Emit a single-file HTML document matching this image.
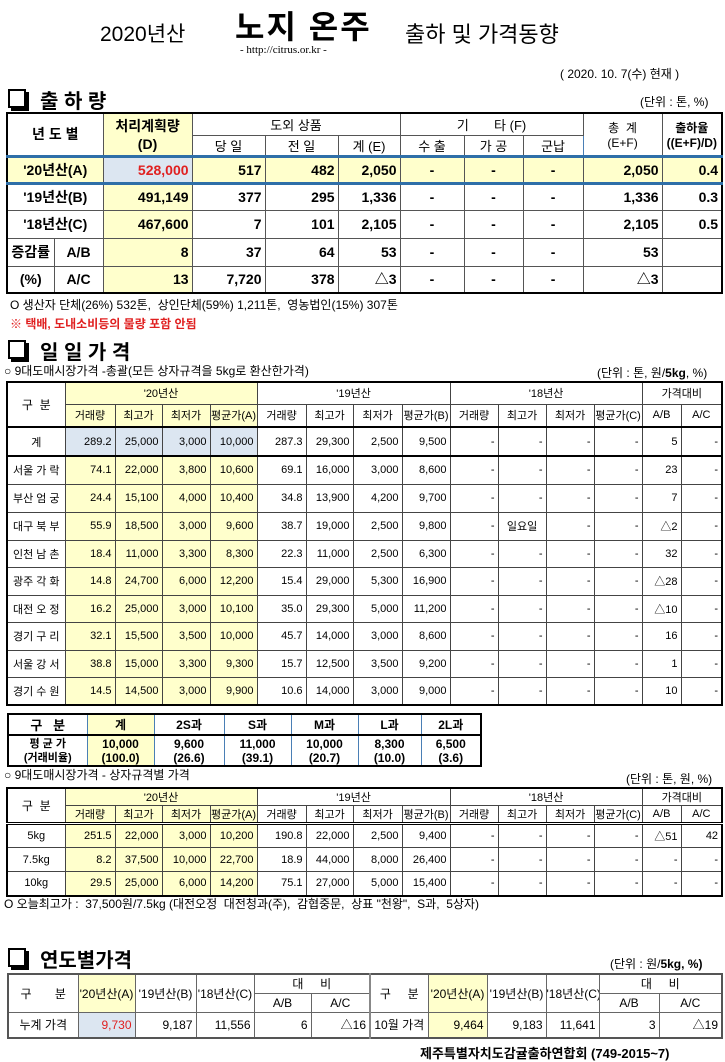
<!DOCTYPE html>
<html><head><meta charset="utf-8">
<style>
body{margin:0;width:725px;height:1062px;background:#fff;position:relative;overflow:hidden;font-family:"Liberation Sans","Noto Sans CJK KR",sans-serif;color:#000}
.a{position:absolute;white-space:nowrap}
table{position:absolute;border-collapse:collapse;table-layout:fixed}
td{padding:0;text-align:center;white-space:nowrap;overflow:hidden}
.box{position:absolute;width:14px;height:15px;border:2px solid #000;box-shadow:3px 3px 0 #000;background:#fff}
.h{font-weight:bold;font-size:20px}
.y{background:#ffffcc}
.b{background:#dce6f1}
.r{text-align:right;padding-right:3px}
.t1 td{border:1px solid #555;font-size:14px;font-weight:bold}
.t2 td{border:1px solid #444;font-size:11px}
.t2 td.d{border-right:1px dotted #444}
.t3 td{border:1px solid #4a7fb5;font-size:12px;font-weight:bold}
.t5 td{border:1px solid #666;font-size:12px}
</style></head><body>

<div class="a" style="left:100px;top:18px;font-size:21px">2020년산</div>
<div class="a" style="left:235px;top:2px;font-size:32px;font-weight:bold;letter-spacing:2px">노지 온주</div>
<div class="a" style="left:405px;top:17px;font-size:22px">출하 및 가격동향</div>
<div class="a" style="left:240px;top:44px;font-size:11px;font-family:'Liberation Serif',serif">- http://citrus.or.kr -</div>
<div class="a" style="left:560px;top:65px;font-size:12px">( 2020. 10. 7(수) 현재 )</div>

<div class="box" style="left:8px;top:89px"></div>
<div class="a h" style="left:40px;top:85px">출 하 량</div>
<div class="a" style="left:640px;top:93px;font-size:12px">(단위 : 톤, %)</div>

<table class="t1" style="left:6px;top:112px;width:715px;border:2px solid #000">
<colgroup><col style="width:47px"><col style="width:49px"><col style="width:89px"><col style="width:73px"><col style="width:73px"><col style="width:62px"><col style="width:64px"><col style="width:59px"><col style="width:60px"><col style="width:79px"><col style="width:60px"></colgroup>
<tr style="height:22px"><td colspan="2" rowspan="2">년 도 별</td><td rowspan="2" class="y" style="font-size:14px">처리계획량<br>(D)</td><td colspan="3" style="font-weight:normal;font-size:13px;border-bottom:1px dotted #555">도외 상품</td><td colspan="3" style="font-weight:normal;font-size:13px;border-bottom:1px dotted #555">기 &nbsp; &nbsp; &nbsp; 타 (F)</td><td rowspan="2" style="font-weight:normal;font-size:12px;border-left:1px solid #4a7fb5">총 &nbsp;계<br>(E+F)</td><td rowspan="2" style="font-size:12px">출하율<br>((E+F)/D)</td></tr>
<tr style="height:21px;border-bottom:3px solid #2f6fa8"><td style="font-weight:normal;font-size:13px">당 일</td><td style="font-weight:normal;font-size:13px">전 일</td><td style="font-weight:normal;font-size:13px">계 (E)</td><td style="font-weight:normal;font-size:13px">수 출</td><td style="font-weight:normal;font-size:13px">가 공</td><td style="font-weight:normal;font-size:13px">군납</td></tr>
<tr class="y" style="height:27px;border-bottom:3px solid #2f6fa8"><td colspan="2">'20년산(A)</td><td class="b r" style="color:#e02020">528,000</td><td class="r">517</td><td class="r">482</td><td class="r">2,050</td><td>-</td><td>-</td><td>-</td><td class="r">2,050</td><td class="r">0.4</td></tr>
<tr style="height:27px"><td colspan="2">'19년산(B)</td><td class="y r">491,149</td><td class="r">377</td><td class="r">295</td><td class="r">1,336</td><td>-</td><td>-</td><td>-</td><td class="r">1,336</td><td class="r">0.3</td></tr>
<tr style="height:28px"><td colspan="2">'18년산(C)</td><td class="y r">467,600</td><td class="r">7</td><td class="r">101</td><td class="r">2,105</td><td>-</td><td>-</td><td>-</td><td class="r">2,105</td><td class="r">0.5</td></tr>
<tr style="height:28px;border-bottom:1px dotted #555"><td>증감률</td><td>A/B</td><td class="y r">8</td><td class="r">37</td><td class="r">64</td><td class="r">53</td><td>-</td><td>-</td><td>-</td><td class="r">53</td><td></td></tr>
<tr style="height:27px"><td>(%)</td><td>A/C</td><td class="y r">13</td><td class="r">7,720</td><td class="r">378</td><td class="r">△3</td><td>-</td><td>-</td><td>-</td><td class="r">△3</td><td></td></tr>
</table>
<div class="a" style="left:10px;top:296px;font-size:12px">O 생산자 단체(26%) 532톤, &nbsp;상인단체(59%) 1,211톤, &nbsp;영농법인(15%) 307톤</div>
<div class="a" style="left:10px;top:315px;font-size:12px;color:#e02020;font-weight:bold">※ 택배, 도내소비등의 물량 포함 안됨</div>

<div class="box" style="left:8px;top:340px"></div>
<div class="a h" style="left:40px;top:336px">일 일 가 격</div>
<div class="a" style="left:4px;top:362px;font-size:12px">○ 9대도매시장가격 -총괄(모든 상자규격을 5kg로 환산한가격)</div>
<div class="a" style="left:597px;top:364px;font-size:12px">(단위 : 톤, 원/<b>5kg</b>, %)</div>

<table class="t2" style="left:6px;top:381px;width:715px;border:2px solid #000">
<colgroup><col style="width:58px"><col style="width:50px"><col style="width:47px"><col style="width:48px"><col style="width:47px"><col style="width:49px"><col style="width:47px"><col style="width:49px"><col style="width:48px"><col style="width:48px"><col style="width:48px"><col style="width:48px"><col style="width:48px"><col style="width:39px"><col style="width:41px"></colgroup>
<tr style="height:22px"><td rowspan="2" style="font-size:12px">구 &nbsp;분</td><td colspan="4" class="y">'20년산</td><td colspan="4">'19년산</td><td colspan="4">'18년산</td><td colspan="2">가격대비</td></tr>
<tr style="height:23px;border-bottom:2px solid #000"><td class="y d">거래량</td><td class="y d">최고가</td><td class="y d">최저가</td><td class="y">평균가(A)</td><td class="d">거래량</td><td class="d">최고가</td><td class="d">최저가</td><td>평균가(B)</td><td class="d">거래량</td><td class="d">최고가</td><td class="d">최저가</td><td>평균가(C)</td><td>A/B</td><td>A/C</td></tr>
<tr style="height:29px;border-bottom:2px solid #000"><td>계</td><td class="b r d">289.2</td><td class="b r d">25,000</td><td class="b r d">3,000</td><td class="b r">10,000</td><td class="r d">287.3</td><td class="r d">29,300</td><td class="r d">2,500</td><td class="r">9,500</td><td class="r">-</td><td class="r">-</td><td class="r">-</td><td class="r">-</td><td class="r">5</td><td class="r">-</td></tr>
<tr style="height:28px"><td>서울 가 락</td><td class="y r d">74.1</td><td class="y r d">22,000</td><td class="y r d">3,800</td><td class="y r">10,600</td><td class="r d">69.1</td><td class="r d">16,000</td><td class="r d">3,000</td><td class="r">8,600</td><td class="r">-</td><td class="r">-</td><td class="r">-</td><td class="r">-</td><td class="r">23</td><td class="r">-</td></tr>
<tr style="height:28px"><td>부산 엄 궁</td><td class="y r d">24.4</td><td class="y r d">15,100</td><td class="y r d">4,000</td><td class="y r">10,400</td><td class="r d">34.8</td><td class="r d">13,900</td><td class="r d">4,200</td><td class="r">9,700</td><td class="r">-</td><td class="r">-</td><td class="r">-</td><td class="r">-</td><td class="r">7</td><td class="r">-</td></tr>
<tr style="height:28px"><td>대구 북 부</td><td class="y r d">55.9</td><td class="y r d">18,500</td><td class="y r d">3,000</td><td class="y r">9,600</td><td class="r d">38.7</td><td class="r d">19,000</td><td class="r d">2,500</td><td class="r">9,800</td><td class="r">-</td><td>일요일</td><td class="r">-</td><td class="r">-</td><td class="r">△2</td><td class="r">-</td></tr>
<tr style="height:27px"><td>인천 남 촌</td><td class="y r d">18.4</td><td class="y r d">11,000</td><td class="y r d">3,300</td><td class="y r">8,300</td><td class="r d">22.3</td><td class="r d">11,000</td><td class="r d">2,500</td><td class="r">6,300</td><td class="r">-</td><td class="r">-</td><td class="r">-</td><td class="r">-</td><td class="r">32</td><td class="r">-</td></tr>
<tr style="height:28px"><td>광주 각 화</td><td class="y r d">14.8</td><td class="y r d">24,700</td><td class="y r d">6,000</td><td class="y r">12,200</td><td class="r d">15.4</td><td class="r d">29,000</td><td class="r d">5,300</td><td class="r">16,900</td><td class="r">-</td><td class="r">-</td><td class="r">-</td><td class="r">-</td><td class="r">△28</td><td class="r">-</td></tr>
<tr style="height:27px"><td>대전 오 정</td><td class="y r d">16.2</td><td class="y r d">25,000</td><td class="y r d">3,000</td><td class="y r">10,100</td><td class="r d">35.0</td><td class="r d">29,300</td><td class="r d">5,000</td><td class="r">11,200</td><td class="r">-</td><td class="r">-</td><td class="r">-</td><td class="r">-</td><td class="r">△10</td><td class="r">-</td></tr>
<tr style="height:28px"><td>경기 구 리</td><td class="y r d">32.1</td><td class="y r d">15,500</td><td class="y r d">3,500</td><td class="y r">10,000</td><td class="r d">45.7</td><td class="r d">14,000</td><td class="r d">3,000</td><td class="r">8,600</td><td class="r">-</td><td class="r">-</td><td class="r">-</td><td class="r">-</td><td class="r">16</td><td class="r">-</td></tr>
<tr style="height:27px"><td>서울 강 서</td><td class="y r d">38.8</td><td class="y r d">15,000</td><td class="y r d">3,300</td><td class="y r">9,300</td><td class="r d">15.7</td><td class="r d">12,500</td><td class="r d">3,500</td><td class="r">9,200</td><td class="r">-</td><td class="r">-</td><td class="r">-</td><td class="r">-</td><td class="r">1</td><td class="r">-</td></tr>
<tr style="height:28px"><td>경기 수 원</td><td class="y r d">14.5</td><td class="y r d">14,500</td><td class="y r d">3,000</td><td class="y r">9,900</td><td class="r d">10.6</td><td class="r d">14,000</td><td class="r d">3,000</td><td class="r">9,000</td><td class="r">-</td><td class="r">-</td><td class="r">-</td><td class="r">-</td><td class="r">10</td><td class="r">-</td></tr>
</table>

<table class="t3" style="left:7px;top:713px;width:473px;border:2px solid #000">
<colgroup><col style="width:79px"><col style="width:67px"><col style="width:70px"><col style="width:67px"><col style="width:67px"><col style="width:63px"><col style="width:60px"></colgroup>
<tr style="height:19px;border-bottom:2px solid #000"><td style="font-size:13px">구 &nbsp; 분</td><td class="y">계</td><td>2S과</td><td>S과</td><td>M과</td><td>L과</td><td>2L과</td></tr>
<tr style="height:31px;line-height:14px"><td style="font-size:11px">평 균 가<br>(거래비율)</td><td class="y" style="font-size:12px">10,000<br>(100.0)</td><td>9,600<br>(26.6)</td><td>11,000<br>(39.1)</td><td>10,000<br>(20.7)</td><td>8,300<br>(10.0)</td><td>6,500<br>(3.6)</td></tr>
</table>

<div class="a" style="left:4px;top:766px;font-size:12px">○ 9대도매시장가격 - 상자규격별 가격</div>
<div class="a" style="left:626px;top:770px;font-size:12px">(단위 : 톤, 원, %)</div>

<table class="t2" style="left:6px;top:787px;width:715px;border:2px solid #000">
<colgroup><col style="width:58px"><col style="width:50px"><col style="width:47px"><col style="width:48px"><col style="width:47px"><col style="width:49px"><col style="width:47px"><col style="width:49px"><col style="width:48px"><col style="width:48px"><col style="width:48px"><col style="width:48px"><col style="width:48px"><col style="width:39px"><col style="width:41px"></colgroup>
<tr style="height:16px"><td rowspan="2" style="font-size:12px">구 &nbsp;분</td><td colspan="4" class="y">'20년산</td><td colspan="4">'19년산</td><td colspan="4">'18년산</td><td colspan="2">가격대비</td></tr>
<tr style="height:15px;border-bottom:3px double #000"><td class="y d">거래량</td><td class="y d">최고가</td><td class="y d">최저가</td><td class="y">평균가(A)</td><td class="d">거래량</td><td class="d">최고가</td><td class="d">최저가</td><td>평균가(B)</td><td class="d">거래량</td><td class="d">최고가</td><td class="d">최저가</td><td>평균가(C)</td><td class="d">A/B</td><td>A/C</td></tr>
<tr style="height:24px"><td>5kg</td><td class="y r d">251.5</td><td class="y r d">22,000</td><td class="y r d">3,000</td><td class="y r">10,200</td><td class="r d">190.8</td><td class="r d">22,000</td><td class="r d">2,500</td><td class="r">9,400</td><td class="r d">-</td><td class="r d">-</td><td class="r d">-</td><td class="r d">-</td><td class="r d">△51</td><td class="r">42</td></tr>
<tr style="height:24px"><td>7.5kg</td><td class="y r d">8.2</td><td class="y r d">37,500</td><td class="y r d">10,000</td><td class="y r">22,700</td><td class="r d">18.9</td><td class="r d">44,000</td><td class="r d">8,000</td><td class="r">26,400</td><td class="r d">-</td><td class="r d">-</td><td class="r d">-</td><td class="r d">-</td><td class="r d">-</td><td class="r">-</td></tr>
<tr style="height:24px"><td>10kg</td><td class="y r d">29.5</td><td class="y r d">25,000</td><td class="y r d">6,000</td><td class="y r">14,200</td><td class="r d">75.1</td><td class="r d">27,000</td><td class="r d">5,000</td><td class="r">15,400</td><td class="r d">-</td><td class="r d">-</td><td class="r d">-</td><td class="r d">-</td><td class="r d">-</td><td class="r">-</td></tr>
</table>
<div class="a" style="left:4px;top:895px;font-size:12px">O 오늘최고가 : &nbsp;37,500원/7.5kg (대전오정 &nbsp;대전청과(주), &nbsp;감협중문, &nbsp;상표 "천왕", &nbsp;S과, &nbsp;5상자)</div>

<div class="box" style="left:8px;top:948px"></div>
<div class="a h" style="left:40px;top:944px">연도별가격</div>
<div class="a" style="left:610px;top:955px;font-size:12px">(단위 : 원/<b>5kg, %)</b></div>

<table class="t5" style="left:7px;top:973px;width:714px;border:2px solid #555">
<colgroup><col style="width:70px"><col style="width:57px"><col style="width:61px"><col style="width:58px"><col style="width:57px"><col style="width:59px"><col style="width:58px"><col style="width:59px"><col style="width:59px"><col style="width:53px"><col style="width:60px"><col style="width:63px"></colgroup>
<tr style="height:19px"><td rowspan="2">구 &nbsp; &nbsp; &nbsp; 분</td><td rowspan="2" class="y">'20년산(A)</td><td rowspan="2">'19년산(B)</td><td rowspan="2">'18년산(C)</td><td colspan="2" style="border-bottom:1px dotted #666">대 &nbsp; &nbsp; 비</td><td rowspan="2" style="border-left:2px solid #888">구 &nbsp; &nbsp; 분</td><td rowspan="2" class="y">'20년산(A)</td><td rowspan="2">'19년산(B)</td><td rowspan="2">'18년산(C)</td><td colspan="2" style="border-bottom:1px dotted #666">대 &nbsp; &nbsp; 비</td></tr>
<tr style="height:19px"><td>A/B</td><td>A/C</td><td>A/B</td><td>A/C</td></tr>
<tr style="height:26px"><td>누계 가격</td><td class="b r" style="color:#e02020">9,730</td><td class="r">9,187</td><td class="r">11,556</td><td class="r">6</td><td class="r">△16</td><td style="border-left:2px solid #888">10월 가격</td><td class="y r">9,464</td><td class="r">9,183</td><td class="r">11,641</td><td class="r">3</td><td class="r">△19</td></tr>
</table>
<div class="a" style="left:420px;top:1043px;font-size:13px;font-weight:bold">제주특별자치도감귤출하연합회 (749-2015~7)</div>
</body></html>
